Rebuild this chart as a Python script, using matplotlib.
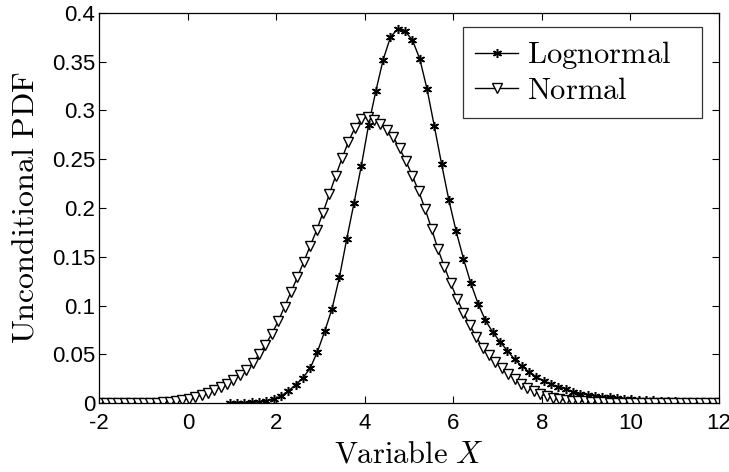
import numpy as np
import matplotlib.pyplot as plt
from matplotlib.ticker import MultipleLocator, FuncFormatter

# Lognormal PDF, sampled on an even grid from 0.95 to 12
logn_pdf = [0.0002, 0.0003, 0.0005, 0.0009, 0.0014, 0.0025, 0.0042, 0.0075,
            0.0125, 0.019, 0.026, 0.036, 0.053, 0.074, 0.097, 0.129,
            0.168, 0.205, 0.243, 0.285, 0.320, 0.352, 0.375, 0.3835,
            0.381, 0.372, 0.353, 0.322, 0.284, 0.245, 0.208, 0.176,
            0.148, 0.123, 0.102, 0.085, 0.073, 0.063, 0.054, 0.045,
            0.038, 0.032, 0.027, 0.023, 0.0195, 0.017, 0.0145, 0.012,
            0.010, 0.0088, 0.0078, 0.0068, 0.006, 0.0053, 0.0047, 0.0042,
            0.0037, 0.0033, 0.0029, 0.0026, 0.0023, 0.0020, 0.0018, 0.0016,
            0.0014, 0.0012, 0.0011, 0.0010]
logn_x = np.linspace(0.95, 12, len(logn_pdf))

# Normal PDF, sampled on an even grid from -2 to 12
norm_pdf = [0.0, 0.0, 0.0, 0.0, 0.0001, 0.0001, 0.0002, 0.0003,
            0.0005, 0.0008, 0.0012, 0.0018, 0.0026, 0.0036, 0.0048, 0.0065,
            0.0085, 0.0110, 0.0135, 0.0165, 0.020, 0.024, 0.029, 0.034,
            0.041, 0.050, 0.060, 0.071, 0.084, 0.099, 0.114, 0.129,
            0.145, 0.161, 0.177, 0.195, 0.214, 0.233, 0.251, 0.268,
            0.282, 0.291, 0.293, 0.290, 0.286, 0.280, 0.273, 0.261,
            0.248, 0.233, 0.217, 0.199, 0.179, 0.158, 0.140, 0.123,
            0.107, 0.093, 0.080, 0.068, 0.057, 0.049, 0.042, 0.036,
            0.030, 0.025, 0.020, 0.016, 0.013, 0.010, 0.0075, 0.0055,
            0.0042, 0.0034, 0.0028, 0.0023, 0.0019, 0.0015, 0.0012, 0.0010,
            0.0008, 0.0006, 0.0005, 0.0004, 0.0003, 0.0003, 0.0002, 0.0002,
            0.0002, 0.0001, 0.0001, 0.0001, 0.0001, 0.0, 0.0, 0.0,
            0.0, 0.0]
norm_x = np.linspace(-2, 12, len(norm_pdf))

plt.rcParams['font.family'] = ['Liberation Sans', 'DejaVu Sans']
plt.rcParams['mathtext.fontset'] = 'cm'

fig = plt.figure(figsize=(7.29, 4.72), dpi=100)
ax = fig.add_axes([0.1362, 0.1455, 0.8501, 0.8276])

asterisk = (6, 2, 0)
ax.plot(logn_x, logn_pdf, color='black', lw=1.0, marker=asterisk,
        markersize=6.5, markeredgewidth=1.1, label=r'$\mathrm{Lognormal}$')
ax.plot(norm_x, norm_pdf, color='black', lw=1.0, marker='v',
        markersize=6.5, markerfacecolor='white', markeredgewidth=1.0,
        label=r'$\mathrm{Normal}$')

ax.set_xlim(-2, 12)
ax.set_ylim(0, 0.4)
ax.xaxis.set_major_locator(MultipleLocator(2))
ax.yaxis.set_major_locator(MultipleLocator(0.05))
ax.yaxis.set_major_formatter(FuncFormatter(lambda v, p: '%g' % round(v, 2)))
ax.xaxis.set_major_formatter(FuncFormatter(lambda v, p: '%g' % v))
ax.tick_params(direction='in', top=True, right=True, length=5, width=0.8,
               labelsize=16)
ax.tick_params(axis='x', pad=7)
ax.tick_params(axis='y', pad=3)
for s in ax.spines.values():
    s.set_linewidth(0.9)

ax.set_xlabel(r'$\mathrm{Variable}\ X$', fontsize=22, labelpad=4)
ax.set_ylabel(r'$\mathrm{Unconditional\ PDF}$', fontsize=23, labelpad=8)

# wide legend box with empty room on the right
leg = ax.legend(loc='upper left', bbox_to_anchor=(0.587, 0.755, 0.386, 0.208),
                mode='expand', fontsize=22, frameon=True, fancybox=False,
                handlelength=1.4, handletextpad=0.28, borderpad=0.4,
                labelspacing=0.15, borderaxespad=0)
leg.get_frame().set_edgecolor('black')
leg.get_frame().set_linewidth(0.9)

fig.savefig('out.png', dpi=100)
